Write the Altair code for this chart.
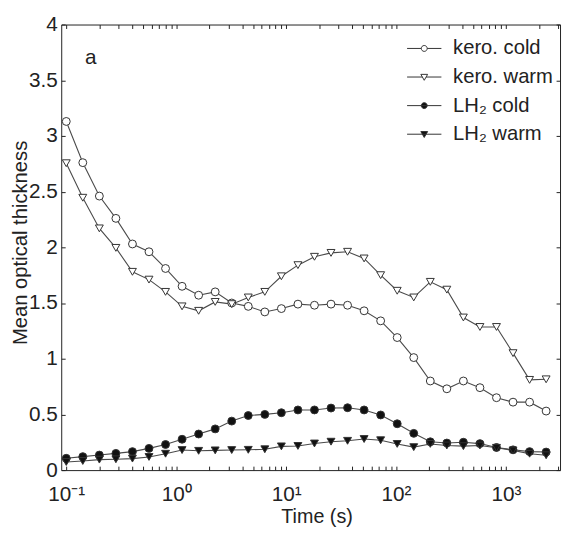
import altair as alt
import pandas as pd

# ---- data ----
time_s = [0.1, 0.1414, 0.2, 0.2828, 0.4, 0.5657, 0.8, 1.131, 1.6, 2.263,
          3.2, 4.525, 6.4, 9.051, 12.8, 18.1, 25.6, 36.2, 51.2, 72.41,
          102.4, 144.8, 204.8, 289.6, 409.6, 579.2, 819.2, 1158.5, 1638.4, 2317.0]
kero_cold = [3.13, 2.76, 2.46, 2.26, 2.03, 1.96, 1.81, 1.65, 1.57, 1.60,
             1.50, 1.47, 1.42, 1.45, 1.49, 1.48, 1.49, 1.48, 1.43, 1.34,
             1.19, 1.01, 0.80, 0.73, 0.80, 0.74, 0.65, 0.61, 0.61, 0.53]
kero_warm = [2.755, 2.445, 2.17, 1.995, 1.78, 1.71, 1.60, 1.47, 1.43, 1.51,
             1.49, 1.55, 1.60, 1.74, 1.84, 1.915, 1.95, 1.96, 1.90, 1.75,
             1.61, 1.55, 1.69, 1.62, 1.37, 1.285, 1.285, 1.05, 0.81, 0.815]
lh2_cold = [0.106, 0.121, 0.135, 0.15, 0.166, 0.195, 0.23, 0.277, 0.324, 0.37,
            0.44, 0.49, 0.50, 0.515, 0.54, 0.54, 0.557, 0.56, 0.54, 0.495,
            0.416, 0.33, 0.254, 0.243, 0.25, 0.238, 0.203, 0.182, 0.166, 0.162]
lh2_warm = [0.073, 0.082, 0.094, 0.097, 0.103, 0.118, 0.147, 0.18, 0.173, 0.177,
            0.18, 0.182, 0.187, 0.213, 0.217, 0.239, 0.255, 0.263, 0.279, 0.268,
            0.235, 0.206, 0.235, 0.221, 0.215, 0.221, 0.2, 0.177, 0.147, 0.133]

series_names = ["kero. cold", "kero. warm", "LH\u2082 cold", "LH\u2082 warm"]
series_values = [kero_cold, kero_warm, lh2_cold, lh2_warm]

x_major = [0.1, 1, 10, 100, 1000]
x_major_labels = ["10\u207b\u00b9", "10\u2070", "10\u00b9", "10\u00b2", "10\u00b3"]
x_ticks = [m * 10.0 ** e for e in range(-1, 4) for m in range(1, 10) if m * 10.0 ** e <= 3000]
y_ticks = [0, 0.5, 1, 1.5, 2, 2.5, 3, 3.5, 4]

rows = []
for name, vals in zip(series_names, series_values):
    for t, v in zip(time_s, vals):
        rows.append({"series": name, "time": t, "value": v})
df = pd.DataFrame(rows)

FONT = "Liberation Sans"
INK = "#222222"
LINE = "#4a4a4a"
EDGE = "#333333"

marker_shapes = ["circle", "triangle-down", "circle", "triangle-down"]
marker_fills = ["white", "white", "#111111", "#111111"]
marker_edges = [EDGE, EDGE, EDGE, EDGE]
legend_paths = [
    "M-5.8,0H-1M1,0H5.8M1,0A1,1,0,1,1,-1,0A1,1,0,1,1,1,0Z",
    "M-5.8,0H-0.63M0.63,0H5.8M-1.15,-0.9H1.15L0,1.1Z",
    "M-5.8,0H5.8M1,0A1,1,0,1,1,-1,0A1,1,0,1,1,1,0Z",
    "M-5.8,0H5.8M-1.15,-0.9H1.15L0,1.1Z",
]

label_expr = " : ".join(
    f"datum.value == {v} ? '{l}'" for v, l in zip(x_major, x_major_labels)
) + " : ''"

x_scale = alt.Scale(type="log", domain=[0.09, 3100], nice=False)
y_scale = alt.Scale(domain=[0, 4], nice=False, zero=False)

X = alt.X("time:Q", scale=x_scale, title="Time (s)",
          axis=alt.Axis(values=x_ticks, labelExpr=label_expr, tickSize=4, offset=-4,
                        domain=False, grid=False, labelPadding=14, labelFlush=False,
                        labelOverlap=False, labelFontSize=21, titleFontSize=20,
                        titleBaseline="alphabetic", titleY=57, titleX=259,
                        titleAlign="center"))
Y = alt.Y("value:Q", scale=y_scale, title="Mean optical thickness",
          axis=alt.Axis(values=y_ticks, format="~g", tickSize=4, offset=-4,
                        domain=False, grid=False, labelPadding=4, labelFlush=False,
                        labelFontSize=21, titleFontSize=20.5,
                        titleBaseline="alphabetic", titleX=-39, titleY=221,
                        titleAlign="center"))

lines = alt.Chart(df).mark_line(color=LINE, strokeWidth=1.1).encode(
    x=X, y=Y, detail="series:N")

points = alt.Chart(df).mark_point(filled=True, stroke=EDGE, strokeWidth=1,
                                  opacity=1, size=64).encode(
    x=X, y=Y,
    shape=alt.Shape("series:N", scale=alt.Scale(domain=series_names, range=marker_shapes),
                    legend=None),
    fill=alt.Fill("series:N", scale=alt.Scale(domain=series_names, range=marker_fills),
                  legend=None),
)

main = alt.layer(lines, points)

frame = alt.Chart(df).mark_point(opacity=0).encode(
    x=alt.X("time:Q", scale=x_scale, title="",
            axis=alt.Axis(orient="top", values=x_ticks, labels=False, tickSize=4,
                          offset=-4, domain=False, grid=False)),
    y=alt.Y("value:Q", scale=y_scale, title="",
            axis=alt.Axis(orient="right", values=y_ticks, labels=False, tickSize=4,
                          offset=-4, domain=False, grid=False)),
)

leg = alt.Legend(title=None, orient="none", legendX=358, legendY=14, padding=0,
                 labelFont=FONT, labelFontSize=20.5, labelColor=INK, labelOffset=19,
                 symbolSize=36, symbolStrokeWidth=1, rowPadding=8)

legend_layer = alt.Chart(df).transform_filter("false").mark_point(
    filled=False, opacity=1, strokeWidth=1).encode(
    shape=alt.Shape("series:N", scale=alt.Scale(domain=series_names, range=legend_paths),
                    legend=leg),
    fill=alt.Fill("series:N", scale=alt.Scale(domain=series_names, range=marker_fills),
                  legend=leg),
    stroke=alt.Stroke("series:N", scale=alt.Scale(domain=series_names, range=marker_edges),
                      legend=leg),
)

chart = alt.layer(main, frame, legend_layer).resolve_scale(
    x="independent", y="independent", shape="independent", fill="independent",
    stroke="independent"
).properties(
    width=506, height=452,
    autosize=alt.AutoSizeParams(type="none"),
    padding={"left": 54, "top": 13, "right": 2, "bottom": 58},
    title=alt.TitleParams("a", anchor="start", frame="group", fontSize=21, font=FONT,
                          fontWeight="normal", color=INK, dx=24, dy=72, offset=0,
                          baseline="alphabetic"),
).configure_view(stroke=INK, strokeWidth=1).configure_axis(
    labelFont=FONT, titleFont=FONT, labelColor=INK, titleColor=INK,
    titleFontWeight="normal", tickColor=INK, tickWidth=1,
)

chart.save("out.html", embed_options={"renderer": "svg", "actions": False})
